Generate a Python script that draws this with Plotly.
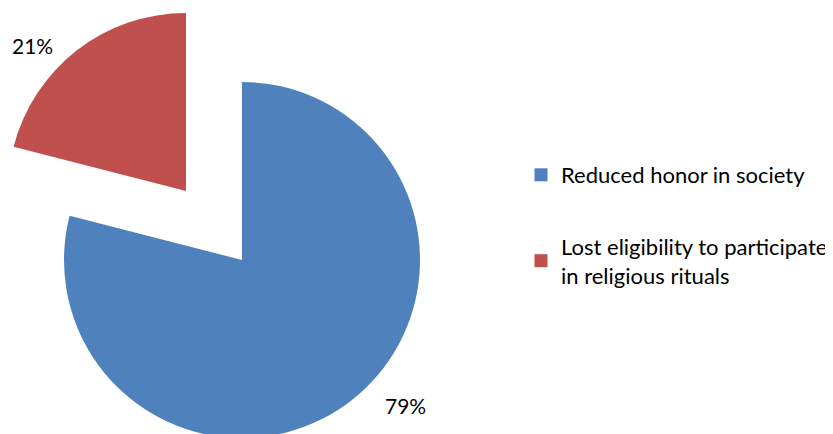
import plotly.graph_objects as go

labels = ["Reduced honor in society", "Lost eligibility to participate<br>in religious rituals"]
values = [79, 21]
colors = ["#4F81BD", "#C0504D"]
pct_text = ["79%", "21%"]

W, H = 833, 434
OFF = 8  # page body margin
FONT = "Lato"

def px(x):
    return (x - OFF) / W

def py(y):
    return (H - (y - OFF)) / H

def dom(cx, cy, r):
    return dict(x=[px(cx - r), px(cx + r)], y=[py(cy + r), py(cy - r)])

R = 178
cx, cy = 242, 260
ox, oy = -56, -69

fig = go.Figure()
fig.add_trace(go.Pie(
    labels=labels, values=values, sort=False, direction="clockwise", rotation=0,
    marker=dict(colors=[colors[0], "rgba(0,0,0,0)"], line=dict(width=0)),
    textinfo="none", showlegend=False, domain=dom(cx, cy, R), hoverinfo="label+percent"))
fig.add_trace(go.Pie(
    labels=labels, values=values, sort=False, direction="clockwise", rotation=0,
    marker=dict(colors=["rgba(0,0,0,0)", colors[1]], line=dict(width=0)),
    textinfo="none", showlegend=False, domain=dom(cx + ox, cy + oy, R), hoverinfo="label+percent"))

for i, (lab, col) in enumerate(zip(labels, colors)):
    fig.add_trace(go.Scatter(x=[None], y=[None], mode="markers", name=lab,
                             legendgroup=f"g{i}",
                             marker=dict(symbol="square", size=13, color=col)))

fig.add_annotation(x=px(405), y=py(405), xref="paper", yref="paper", xanchor="center", yanchor="middle",
                   text=pct_text[0], showarrow=False, font=dict(size=21, color="black", family=FONT))
fig.add_annotation(x=px(32), y=py(45), xref="paper", yref="paper", xanchor="center", yanchor="middle",
                   text=pct_text[1], showarrow=False, font=dict(size=21, color="black", family=FONT))

fig.update_layout(
    width=W, height=H, margin=dict(l=0, r=0, t=0, b=0),
    paper_bgcolor="white", plot_bgcolor="white",
    xaxis=dict(visible=False), yaxis=dict(visible=False),
    font=dict(family=FONT, size=22, color="black"),
    legend=dict(x=px(521), y=py(154), xanchor="left", yanchor="top",
                tracegroupgap=40, itemsizing="trace", font=dict(size=22, family=FONT)),
)

fig.write_html("out.html")
